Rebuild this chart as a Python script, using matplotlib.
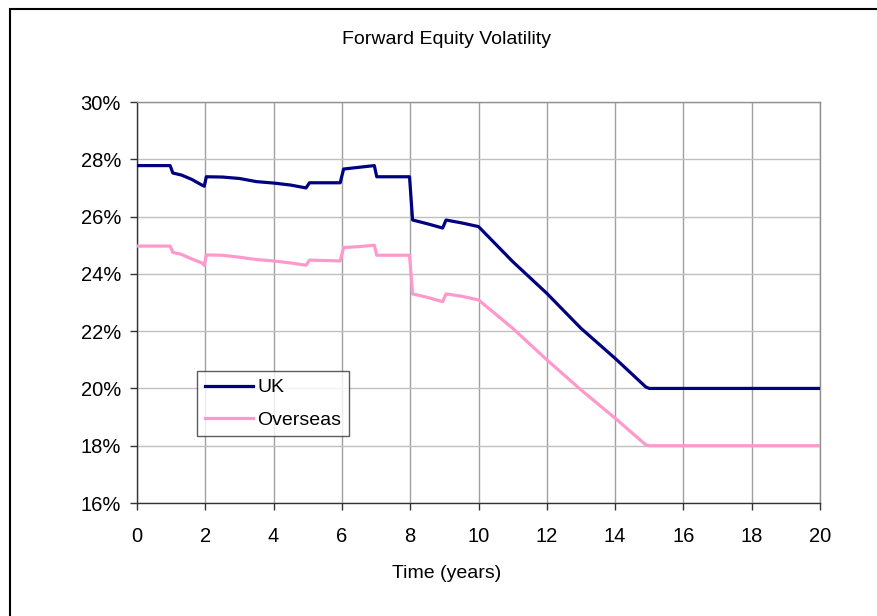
import matplotlib

matplotlib.use("Agg")
import matplotlib.pyplot as plt
from matplotlib import patches
from matplotlib.ticker import FuncFormatter, MultipleLocator


# forward vol term structure (time in years, vol in %)
uk_t = [0, 0.97, 1.05, 1.3, 1.6, 1.9, 1.97, 2.03, 2.5, 3.0, 3.5, 4.0, 4.5, 4.95,
        5.05, 5.95, 6.05, 6.5, 6.95, 7.02, 7.98, 8.07, 8.5, 8.95, 9.05, 9.5,
        10.0, 11.0, 12.0, 13.0, 14.0, 14.9, 15.0, 20.0]
uk_vol = [27.78, 27.78, 27.52, 27.45, 27.3, 27.1, 27.06, 27.39, 27.38, 27.33,
          27.22, 27.17, 27.1, 27.0, 27.18, 27.18, 27.66, 27.72, 27.78, 27.39,
          27.39, 25.88, 25.75, 25.6, 25.88, 25.78, 25.65, 24.43, 23.32, 22.1,
          21.05, 20.05, 20.0, 20.0]

os_t = uk_t
os_vol = [24.97, 24.97, 24.75, 24.68, 24.52, 24.38, 24.3, 24.66, 24.65, 24.58,
          24.5, 24.45, 24.38, 24.3, 24.48, 24.45, 24.92, 24.95, 25.0, 24.65,
          24.65, 23.3, 23.18, 23.03, 23.3, 23.22, 23.09, 22.1, 21.0, 19.95,
          18.96, 18.03, 18.0, 18.0]

NAVY = "#000080"
PINK = "#FF99CC"

W, H = 877, 616


def main() -> None:
    plt.rcParams.update({
        "font.family": ["Liberation Sans", "DejaVu Sans"],
        "font.size": 14,
    })
    fig = plt.figure(figsize=(W / 100, H / 100), dpi=100)

    # chart area border (runs off the right and bottom edges)
    fig.patches.append(patches.Rectangle(
        (10 / W, -0.05), 2.0, 1 - 9 / H + 0.05, transform=fig.transFigure,
        fill=False, edgecolor="black", linewidth=1.5))

    ax = fig.add_axes([137 / W, 1 - 503 / H, 683 / W, 401 / H])
    ax.plot(uk_t, uk_vol, color=NAVY, lw=2.3, label="UK", zorder=3)
    ax.plot(os_t, os_vol, color=PINK, lw=2.3, label="Overseas", zorder=3)

    ax.set_xlim(0, 20)
    ax.set_ylim(16, 30)
    ax.xaxis.set_major_locator(MultipleLocator(2))
    ax.yaxis.set_major_locator(MultipleLocator(2))
    ax.yaxis.set_major_formatter(FuncFormatter(lambda v, _: f"{v:.0f}%"))

    ax.grid(axis="x", color="#a0a0a0", lw=1.0)
    ax.grid(axis="y", color="#c0c0c0", lw=1.0)
    ax.set_axisbelow(True)

    for side in ("top", "right"):
        ax.spines[side].set_color("#909090")
        ax.spines[side].set_linewidth(1.0)
    for side in ("left", "bottom"):
        ax.spines[side].set_color("#333333")
        ax.spines[side].set_linewidth(1.0)
    ax.tick_params(axis="both", direction="out", length=5, width=1.0,
                   color="#333333", labelsize=14.5)
    ax.tick_params(axis="y", pad=6.5)
    ax.tick_params(axis="x", pad=12)

    fig.text(446 / W, 1 - 40 / H, "Forward Equity Volatility", ha="center",
             va="center", fontsize=14)
    fig.text(447 / W, 1 - 574 / H, "Time (years)", ha="center", va="center",
             fontsize=14)

    leg = ax.legend(loc="upper left", bbox_to_anchor=(197 / W, 1 - 371 / H),
                    bbox_transform=fig.transFigure, frameon=True,
                    fancybox=False, handlelength=2.5, handletextpad=0.2,
                    labelspacing=0.75, borderpad=0.4, borderaxespad=0,
                    fontsize=14)
    leg.get_frame().set_edgecolor("#333333")
    leg.get_frame().set_linewidth(1.0)

    fig.savefig("out.png", dpi=100)
    plt.close(fig)


if __name__ == "__main__":
    main()
